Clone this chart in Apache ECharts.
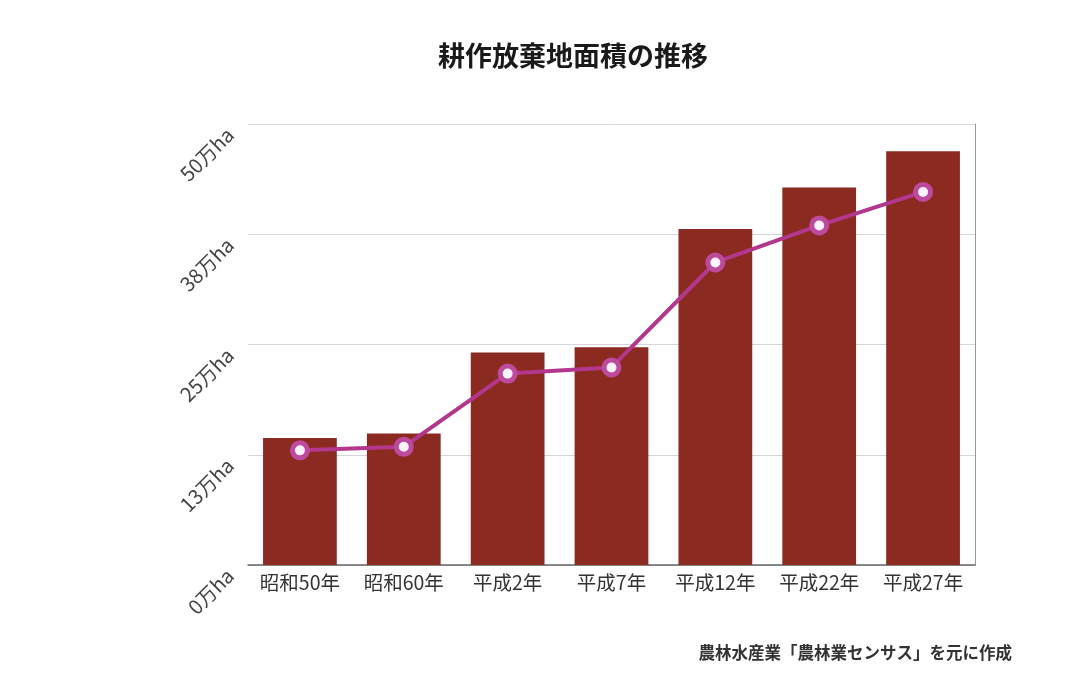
<!DOCTYPE html>
<html>
<head>
<meta charset="utf-8">
<script src="https://cdn.jsdelivr.net/npm/echarts@6/dist/echarts.min.js"></script>
<style>
  html, body { margin: 0; padding: 0; background: #fff; }
  #chart { width: 1080px; height: 680px; }
</style>
</head>
<body>
<div id="chart"></div>
<script>
// data (万ha)
const years = ['昭和50年', '昭和60年', '平成2年', '平成7年', '平成12年', '平成22年', '平成27年'];
const barValues = [14.4, 14.9, 24.1, 24.7, 38.1, 42.8, 46.9];
const lineValues = [13.0, 13.4, 21.7, 22.4, 34.3, 38.5, 42.3];
const yTickLabels = ['0万ha', '13万ha', '25万ha', '38万ha', '50万ha'];

const chart = echarts.init(document.getElementById('chart'));
const font = '"Noto Sans CJK JP", "Noto Sans", sans-serif';

chart.setOption({
  animation: false,
  backgroundColor: '#ffffff',
  textStyle: { fontFamily: font },
  title: {
    text: '耕作放棄地面積の推移',
    left: 568,
    top: 37,
    textAlign: 'center',
    textStyle: { fontFamily: font, fontSize: 27, fontWeight: 'bold', color: '#1a1a1a' }
  },
  graphic: [{
    type: 'text',
    right: 68,
    top: 644,
    style: {
      text: '農林水産業「農林業センサス」を元に作成',
      font: 'bold 16.5px "Noto Sans CJK JP", sans-serif',
      fill: '#333'
    }
  }],
  grid: { left: 248, right: 105, top: 124, bottom: 115 },
  xAxis: {
    type: 'category',
    data: years,
    axisTick: { show: false },
    axisLine: { lineStyle: { color: '#666', width: 1.5 } },
    axisLabel: { color: '#333', fontSize: 19.5, margin: 8, interval: 0 }
  },
  yAxis: [{
    type: 'value',
    min: 0,
    max: 50,
    interval: 12.5,
    axisLine: { show: false },
    axisTick: { show: false },
    splitLine: { lineStyle: { color: '#d6d6d6', width: 1 } },
    axisLabel: {
      rotate: 45,
      color: '#444',
      fontSize: 20,
      margin: 25,
      verticalAlign: 'top',
      formatter: (v) => yTickLabels[Math.round(v / 12.5)]
    }
  }, {
    type: 'value',
    position: 'right',
    min: 0,
    max: 50,
    interval: 12.5,
    axisLine: { show: true, lineStyle: { color: '#999', width: 1 } },
    axisTick: { show: false },
    axisLabel: { show: false },
    splitLine: { show: false }
  }],
  series: [{
    type: 'bar',
    data: barValues,
    barWidth: '71%',
    itemStyle: { color: '#8a2a21' }
  }, {
    type: 'line',
    data: lineValues,
    symbol: 'circle',
    symbolSize: 15,
    lineStyle: { color: '#b3378c', width: 4 },
    itemStyle: { color: '#fdf3fa', borderColor: '#bd4a9c', borderWidth: 5 },
    z: 5
  }]
});
</script>
</body>
</html>
